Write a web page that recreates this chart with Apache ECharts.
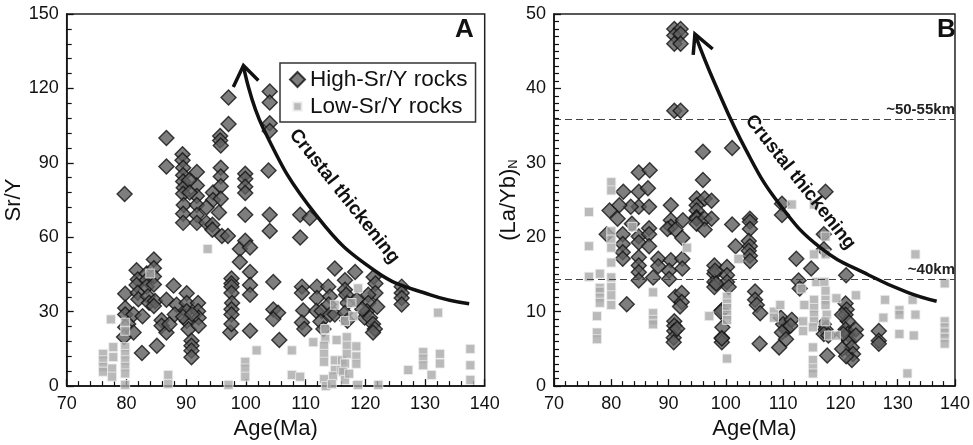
<!DOCTYPE html>
<html><head><meta charset="utf-8">
<script src="https://cdn.jsdelivr.net/npm/echarts@6/dist/echarts.min.js"></script>
<style>html,body{margin:0;padding:0;background:#fff}#c{width:973px;height:445px}</style>
</head><body><div id="c"></div>
<script>
// ---- Panel A: Sr/Y vs Age ----
const highA = [
[79.7,77.4],[79.8,37.2],[79.8,31.5],[79.8,28.9],[80.3,25.0],[79.8,23.7],[79.6,19.8],[81.2,28.9],[81.2,21.6],[82.7,28.2],[82.6,13.3],
[81.7,46.7],[81.9,43.0],[81.7,40.8],[81.9,37.6],[82.0,35.0],[83.4,45.4],[83.4,42.8],[83.4,40.1],[83.6,36.2],[83.8,33.6],[84.6,51.0],[84.6,47.5],[84.6,44.2],[84.6,41.0],[84.8,34.3],[84.6,32.3],[85.1,16.3],
[86.7,100],[86.7,88.5],[86.7,34.8],[87.9,40.5],[85.9,26.5],[85.9,24.3],[86.7,21.6],[87.2,24.9],[88.4,32.8],[88.1,28.9],
[89.4,93.5],[89.4,91.0],[89.5,88.0],[89.5,85.0],[89.5,82.5],[89.6,80.0],[89.5,77.5],[89.6,73.0],[89.5,69.5],[89.5,65.8],[91.8,86.3],[91.8,80.9],[91.8,76.6],[91.8,73.0],[91.8,69.0],[91.8,65.8],[90.5,83.0],[90.6,78.0],
[90.1,37.4],[90.1,33.5],[90.1,30.2],[90.1,26.2],[90.4,22.9],[90.9,18.3],[90.9,16.3],[90.9,14.3],[90.9,11.6],[92.0,33.5],[92.0,30.2],[92.1,27.6],[92.1,24.3],[89.5,28.0],[91.0,29.0],
[93.4,65.8],[94.4,65.0],[94.4,63.0],[94.5,78.0],[94.5,75.0],[95.7,100.8],[95.7,99.0],[95.8,97.0],[95.8,88.0],[95.8,84.5],[95.8,80.6],[95.8,75.5],[96.0,60.5],[95.5,70.0],[93.4,72.0],
[97.1,116.3],[97.1,105.7],[97.0,60.5],
[97.4,21.6],[97.6,43.4],[97.6,41.4],[97.6,40.1],[97.6,37.5],[97.7,33.5],[97.6,31.0],[97.6,28.9],[97.6,25.0],[99.0,55.3],[99.0,50.0],[99.9,58.6],
[99.9,85.6],[99.9,83.6],[99.9,80.4],[99.9,77.8],[99.9,69.1],[100.7,55.9],[100.7,46.0],[100.7,40.8],[100.7,36.8],[100.7,22.3],
[104.0,118.8],[104.0,114.3],[104.0,106.0],[104.0,102.8],[103.8,86.9],[104.0,69.1],[104.0,62.5],[104.6,42.0],[104.6,30.9],[105.4,29.6],[104.6,27.0],[105.6,18.6],
[109.1,69.1],[110.7,67.8],[109.1,59.9],[109.4,40.1],[109.4,37.5],[109.6,30.5],[109.4,25.6],[109.8,23.0],[111.9,40.1],[111.9,35.5],[111.8,30.3],[112.7,30.3],[113.8,40.1],
[114.1,36.1],[113.9,32.9],[114.1,28.9],[114.9,28.9],[114.9,47.4],[118.3,46.0],[116.6,42.7],[116.6,38.8],[116.8,36.8],[117.0,33.5],[116.6,29.5],[117.0,26.3],[118.6,34.8],[119.9,27.6],[112.5,26.0],[113.0,23.0],
[121.4,44.0],[121.7,41.4],[121.7,37.5],[120.5,36.8],[120.5,33.5],[120.3,30.2],[120.8,27.6],[121.3,25.0],[121.6,23.0],[121.3,21.6],[119.5,31.0],[122.0,32.0],
[126.1,40.1],[126.1,37.5],[126.1,35.5],[126.1,32.9]
];
const lowA = [
[77.4,26.9],[79.8,25.6],[79.8,22.3],[84.0,45.4],[93.6,55.3],[76.1,13.0],[76.1,10.4],[76.1,7.8],[76.1,5.8],[77.6,7.1],[77.6,3.8],[77.8,15.7],[77.8,11.7],
[79.8,15.7],[79.8,13.0],[79.8,10.4],[79.8,7.8],[79.8,5.1],[79.8,0.5],[87.0,4.5],[87.0,0.9],[97.1,0.5],[99.9,9.8],[99.9,7.1],[99.9,3.8],[101.8,14.4],
[107.7,14.4],[107.7,4.5],[109.1,3.8],[111.3,17.7],[113.3,23.0],[113.3,19.0],[113.1,16.3],[113.1,13.0],[113.1,9.8],[113.1,2.8],[113.4,0.0],
[114.9,10.4],[114.9,6.5],[114.6,4.0],[114.4,0.8],[116.1,10.4],[116.0,6.5],[115.2,18.6],[116.6,26.2],[116.9,19.7],[116.9,16.3],[116.9,13.0],[116.6,9.1],
[116.3,5.8],[116.6,2.5],[117.3,5.0],[118.8,0.5],[118.8,39.4],[117.7,33.5],[114.9,32.8],[118.0,28.2],[122.2,0.5],[127.2,6.5],[132.2,29.6],
[129.7,13.7],[129.7,11.1],[129.7,8.4],[131.1,4.5],[132.5,13.0],[132.5,9.1],[137.6,15.0],[137.6,8.4],[137.6,2.5],[118.5,16.0],[118.5,12.0],[118.5,9.0]
];
// ---- Panel B: (La/Yb)N vs Age ----
const highB = [
[91.0,48.0],[92.1,48.0],[91.0,47.1],[92.1,47.3],[91.0,46.0],[92.1,46.0],[91.0,37.0],[92.1,37.0],
[96.0,31.5],[96.0,27.7],[84.8,28.7],[86.7,29.0],[84.8,26.1],[86.4,26.6],[82.1,26.1],[84.8,24.1],[86.6,24.1],[83.4,24.1],[81.4,24.3],[79.7,23.6],[90.4,24.3],
[94.9,25.2],[94.9,24.3],[94.9,23.6],[94.9,22.7],[96.3,25.2],[97.5,24.9],
[81.1,22.5],[79.2,20.4],[82.0,20.4],[82.0,19.1],[82.0,18.0],[82.0,17.1],[84.8,20.1],[84.8,19.3],[84.8,17.3],[84.8,16.2],[84.8,15.3],[84.8,14.2],[83.6,21.8],
[86.6,21.2],[86.6,20.4],[86.6,18.8],[88.2,17.1],[88.2,16.1],[87.3,14.6],[82.7,11.0],[90.4,22.3],[90.4,21.4],[89.8,21.1],[91.2,21.0],[92.5,22.3],[92.4,19.9],
[90.4,16.9],[90.1,15.5],[90.1,14.4],[92.4,17.1],[92.4,15.8],[91.2,12.0],[92.3,12.5],[92.3,11.3],[92.0,10.7],[91.0,8.7],[91.0,8.1],[91.0,7.4],[90.9,6.5],[90.9,5.9],[91.5,7.7],
[94.9,22.5],[96.3,22.5],[97.5,22.5],[94.9,21.8],[96.3,21.0],[98.0,16.2],[98.0,15.1],[98.0,14.0],[98.0,13.3],[99.3,10.2],[99.3,6.5],[99.3,5.9],
[101.1,32.0],[117.4,26.1],[109.8,24.5],[109.8,23.0],[104.2,22.5],
[101.1,21.7],[101.7,18.8],[104.2,22.1],[104.2,21.1],[104.0,19.5],[104.2,18.8],[104.0,18.2],[104.2,17.5],[104.2,16.8],[100.2,16.0],[100.2,14.9],[100.2,14.0],[100.5,13.3],
[98.1,15.5],[98.3,13.8],[105.1,12.7],[105.1,11.6],[105.4,10.9],[106.0,9.8],[99.1,10.0],[99.4,7.9],[99.3,6.4],[105.9,5.7],
[109.6,9.2],[110.0,8.3],[110.5,7.6],[109.8,7.2],[110.5,6.3],[109.3,5.2],[111.5,8.9],[111.3,8.1],[112.3,17.1],[112.7,14.2],[112.9,13.1],[114.9,15.8],
[117.1,20.4],[117.1,18.4],[121.0,14.9],[117.7,4.1],[117.1,8.3],[117.4,7.6],[117.1,7.0],[117.9,6.8],
[120.9,11.1],[121.1,10.3],[120.9,9.6],[121.3,8.7],[120.9,7.6],[121.3,7.0],[121.5,6.1],[122.0,5.2],[122.2,4.3],[122.0,3.5],[120.3,9.6],[120.5,7.0],[120.3,5.0],[121.0,4.0],
[122.7,7.6],[122.7,6.8],[126.7,7.4],[126.7,6.1],[126.7,5.7]
];
const lowB = [
[80.0,27.4],[80.0,26.3],[76.1,23.4],[76.1,18.8],[76.1,14.7],[78.0,15.1],[78.0,13.2],[78.0,12.7],[78.0,11.9],[78.0,11.2],[77.5,9.4],[77.5,7.2],[77.5,6.3],
[80.0,20.8],[80.0,19.7],[80.0,18.6],[80.0,16.6],[80.0,14.6],[80.0,13.3],[80.0,12.2],[80.0,10.9],[83.7,21.4],[87.3,12.6],[87.3,9.8],[87.3,8.9],[87.3,8.3],[93.2,18.6],[97.1,9.4],
[111.5,24.4],[115.4,24.4],[102.2,17.1],[100.2,12.0],[100.2,11.1],[100.2,10.5],[100.2,9.6],[100.2,8.9],[100.2,3.7],[115.4,17.7],[117.4,17.7],[117.4,20.1],
[115.8,14.0],[117.2,14.0],[113.2,13.1],[122.7,12.2],[113.7,10.9],[115.4,11.6],[115.4,10.5],[115.4,9.6],[115.4,8.7],[115.2,7.9],[115.2,5.2],[115.2,3.5],[115.2,2.4],[115.2,1.7],
[117.4,12.8],[117.4,11.6],[117.4,10.9],[117.6,9.6],[117.4,8.7],[118.0,6.8],[119.2,6.8],[119.3,11.8],[113.5,8.7],[113.5,7.4],[108.4,10.0],[108.4,9.2],[109.5,10.9],
[127.8,11.6],[127.5,9.2],[130.3,10.2],[130.3,9.6],[130.3,7.0],[131.7,1.7],[132.6,11.6],[133.1,9.6],[132.8,6.8],[133.1,17.7],
[138.2,13.8],[138.2,8.7],[138.2,7.9],[138.2,7.2],[138.2,6.5],[138.2,5.7]
];
// trend arrows (annotation)
const curveA = [[99.6,129],[102.9,104],[111.9,68.5],[121.9,46],[130.9,36.8],[137.4,33.2]];
const headA = [[97.9,120.6],[99.6,129.2],[102.1,123.2]];
const curveB = [[94.6,47.3],[98.0,40.8],[103.6,31.6],[109.3,24.5],[116.5,18.6],[125.0,14.9],[131.7,12.6],[136.8,11.4]];
const headB = [[94.3,44.5],[94.6,47.3],[97.7,45.3]];
const depthLines = [{value:35.8,label:'~50-55km'},{value:14.3,label:'~40km'}];
const xTicks = {min:70,max:140,interval:10};

const FONT = 'Liberation Sans, Arial, sans-serif';
const chart = echarts.init(document.getElementById('c'));
const hiStyle = {color:'#5e5e5e',borderColor:'#111',borderWidth:1.4};
const loStyle = {color:'#a9a9a9',borderColor:'#eeeeee',borderWidth:1};
function xAx(i){return {gridIndex:i,type:'value',min:xTicks.min,max:xTicks.max,interval:xTicks.interval,
  axisLine:{onZero:false,lineStyle:{color:'#111',width:1.5}},
  axisTick:{inside:true,length:7,lineStyle:{color:'#111',width:1.3}},
  minorTick:{show:true,splitNumber:5,length:5,lineStyle:{color:'#111',width:1.2}},
  splitLine:{show:false},
  axisLabel:{fontSize:18,color:'#111',fontFamily:FONT,margin:9},
  name:'Age(Ma)',nameLocation:'middle',nameGap:31,nameTextStyle:{fontSize:22,color:'#111',fontFamily:FONT}};}
function yAx(i,max,interval,minor,name,gap){return {gridIndex:i,type:'value',min:0,max:max,interval:interval,
  axisLine:{onZero:false,lineStyle:{color:'#111',width:1.5}},
  axisTick:{inside:true,length:7,lineStyle:{color:'#111',width:1.3}},
  minorTick:{show:true,splitNumber:minor,length:5,lineStyle:{color:'#111',width:1.2}},
  splitLine:{show:false},
  axisLabel:{fontSize:18,color:'#111',fontFamily:FONT,margin:8},
  name:name,nameLocation:'middle',nameGap:gap,
  nameTextStyle:{fontSize:22,color:'#111',fontFamily:FONT,rich:{sub:{fontSize:13,verticalAlign:'bottom',padding:[10,0,0,0],fontFamily:FONT,color:'#111'}}}};}
const lineS = (data,xi,smooth)=>({type:'line',xAxisIndex:xi,yAxisIndex:xi,data:data,smooth:smooth,showSymbol:false,symbol:'none',silent:true,z:5,
  lineStyle:{color:'#111',width:3.5,join:'miter',cap:'butt'}});

chart.setOption({
  animation:false,
  backgroundColor:'#fff',
  grid:[
    {left:66.7,top:14,width:418,height:379,show:true,borderColor:'#222',borderWidth:1.5},
    {left:554,top:14,width:415,height:379,show:true,borderColor:'#222',borderWidth:1.5}
  ],
  xAxis:[xAx(0),xAx(1)],
  yAxis:[yAx(0,150,30,5,'Sr/Y',37),yAx(1,50,10,10,'(La/Yb){sub|N}',34)],
  legend:{left:280,top:63,orient:'vertical',padding:[5,8,4,9],itemGap:4,itemWidth:15,itemHeight:15,
    borderColor:'#333',borderWidth:1.5,backgroundColor:'#fff',
    textStyle:{fontSize:22.5,color:'#111',fontFamily:FONT},
    data:[{name:'High-Sr/Y rocks',icon:'diamond'},{name:'Low-Sr/Y rocks',icon:'path://M0,0M10,10M2.2,2.2h5.6v5.6h-5.6z'}]},
  series:[
    {name:'High-Sr/Y rocks',type:'scatter',xAxisIndex:0,yAxisIndex:0,symbol:'diamond',symbolSize:15,itemStyle:hiStyle,data:highA,z:2},
    {name:'Low-Sr/Y rocks',type:'scatter',xAxisIndex:0,yAxisIndex:0,symbol:'rect',symbolSize:9,itemStyle:loStyle,data:lowA,z:3},
    {name:'High-Sr/Y rocks',type:'scatter',xAxisIndex:1,yAxisIndex:1,symbol:'diamond',symbolSize:15,itemStyle:hiStyle,data:highB,z:2},
    {name:'Low-Sr/Y rocks',type:'scatter',xAxisIndex:1,yAxisIndex:1,symbol:'rect',symbolSize:9,itemStyle:loStyle,data:lowB,z:3,
      markLine:{silent:true,symbol:'none',animation:false,
        lineStyle:{color:'#444',width:1.2,type:[7,4]},
        label:{show:true,position:'insideEndTop',distance:[0,2],fontSize:15,fontWeight:'bold',color:'#222',fontFamily:FONT,formatter:p=>p.name},
        data:depthLines.map(d=>({yAxis:d.value,name:d.label}))}},
    lineS(curveA,0,0.45),lineS(headA,0,false),
    lineS(curveB,1,0.45),lineS(headB,1,false)
  ]
});
const pA = chart.convertToPixel({gridIndex:0},[116.5,76.5]);
const pB = chart.convertToPixel({gridIndex:1},[113.0,27.4]);
const tA = chart.convertToPixel({gridIndex:0},[136.6,143.5]);
const tB = chart.convertToPixel({gridIndex:1},[138.5,47.9]);
const txt = (p,s)=>({type:'text',x:p[0],y:p[1],rotation:-0.9,style:{text:s,font:'bold 19px '+FONT,fill:'#111',align:'center',verticalAlign:'middle'},z:10});
chart.setOption({graphic:[
  txt(pA,'Crustal thickening'),txt(pB,'Crustal thickening'),
  {type:'text',x:tA[0],y:tA[1],style:{text:'A',font:'bold 26px '+FONT,fill:'#111',align:'center',verticalAlign:'middle'}},
  {type:'text',x:tB[0],y:tB[1],style:{text:'B',font:'bold 26px '+FONT,fill:'#111',align:'center',verticalAlign:'middle'}}
]});
</script></body></html>
